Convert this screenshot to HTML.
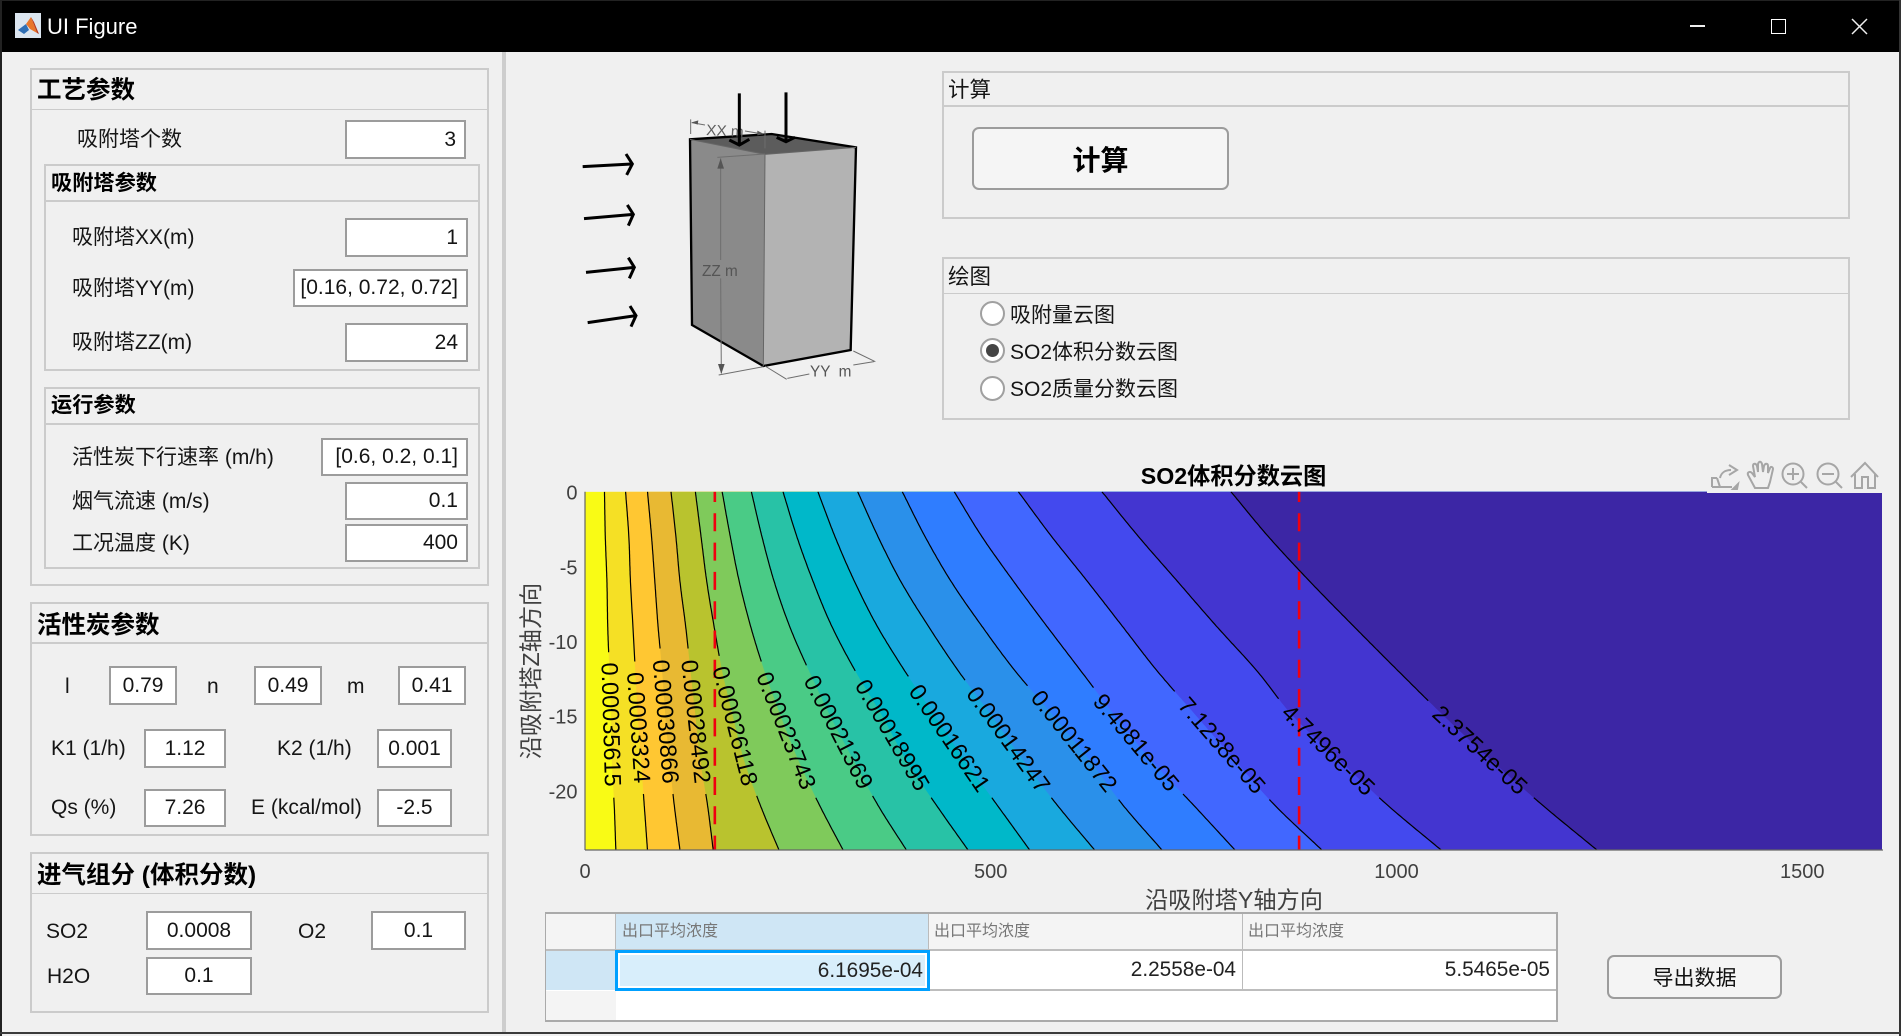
<!DOCTYPE html>
<html lang="zh">
<head>
<meta charset="utf-8">
<title>UI Figure</title>
<style>
html,body{margin:0;padding:0;width:1901px;height:1036px;overflow:hidden;background:#F0F0F0;}
body{position:relative;font-family:"Liberation Sans","Noto Sans CJK SC",sans-serif;color:#111;}
div{box-sizing:border-box;}
.abs{position:absolute;}
.panel{position:absolute;border:2px solid #CBCBCB;}
.hline{position:absolute;height:2px;background:#CBCBCB;}
.ttl{position:absolute;font-weight:bold;white-space:nowrap;line-height:32px;height:32px;color:#000;}
.lb{position:absolute;white-space:nowrap;font-size:21px;line-height:26px;height:26px;color:#151515;}
.in{position:absolute;background:#fff;border:2px solid #9C9C9C;font-size:21px;color:#151515;white-space:nowrap;display:flex;align-items:center;}
.r{justify-content:flex-end;padding-right:8px;}
.c{justify-content:center;}
.radio{position:absolute;width:25px;height:25px;border-radius:50%;background:#fff;border:2px solid #A0A0A0;}
.cell{position:absolute;white-space:nowrap;}
</style>
</head>
<body>

<!-- title bar -->
<div class="abs" style="left:0;top:0;width:1901px;height:52px;background:#000;border-top:1px solid #222;"></div>
<div class="abs" style="left:47px;top:14px;font-size:22px;line-height:26px;color:#fff;white-space:nowrap;">UI Figure</div>
<svg class="abs" style="left:15px;top:13px;" width="26" height="25" viewBox="0 0 26 25">
  <rect x="0" y="0" width="26" height="25" fill="#DCE6F0"/>
  <polygon points="3,17 11,11 14,17 9,21" fill="#2F6FB5"/>
  <polygon points="11,11 16,4 22,20 15,16" fill="#E8762B"/>
  <polygon points="16,4 19,9 24,21 22,20" fill="#B83A1E"/>
</svg>
<div class="abs" style="left:1690px;top:25px;width:15px;height:2px;background:#eee;"></div>
<div class="abs" style="left:1771px;top:19px;width:15px;height:15px;border:1.5px solid #fff;"></div>
<svg class="abs" style="left:1851px;top:18px;" width="17" height="17"><path d="M1 1L16 16M16 1L1 16" stroke="#eee" stroke-width="1.5" fill="none"/></svg>

<!-- frame -->
<div class="abs" style="left:0;top:0;width:2px;height:1036px;background:#222;"></div>
<div class="abs" style="left:1899px;top:0;width:2px;height:1036px;background:#333;"></div>
<div class="abs" style="left:0;top:1032px;width:1901px;height:2px;background:#3A3A3A;"></div>
<div class="abs" style="left:502px;top:52px;width:4px;height:980px;background:#CDCDCD;"></div>

<!-- process parameters -->
<div class="panel" style="left:30px;top:68px;width:459px;height:518px;"></div>
<div class="hline" style="left:32px;top:109px;width:455px;height:1px;"></div>
<div class="ttl" style="left:37px;top:75px;font-size:24.5px;">工艺参数</div>
<div class="lb" style="left:77px;top:127px;">吸附塔个数</div>
<div class="in r" style="left:345px;top:120px;width:121px;height:39px;">3</div>

<div class="panel" style="left:44px;top:164px;width:436px;height:207px;"></div>
<div class="hline" style="left:46px;top:200px;width:432px;"></div>
<div class="ttl" style="left:51px;top:168px;font-size:21.2px;">吸附塔参数</div>
<div class="lb" style="left:72px;top:225px;">吸附塔XX(m)</div>
<div class="in r" style="left:345px;top:218px;width:123px;height:39px;">1</div>
<div class="lb" style="left:72px;top:276px;">吸附塔YY(m)</div>
<div class="in r" style="left:293px;top:269px;width:175px;height:38px;">[0.16, 0.72, 0.72]</div>
<div class="lb" style="left:72px;top:330px;">吸附塔ZZ(m)</div>
<div class="in r" style="left:345px;top:323px;width:123px;height:39px;">24</div>

<div class="panel" style="left:44px;top:387px;width:436px;height:182px;"></div>
<div class="hline" style="left:46px;top:423px;width:432px;"></div>
<div class="ttl" style="left:51px;top:390px;font-size:21.2px;">运行参数</div>
<div class="lb" style="left:72px;top:445px;">活性炭下行速率 (m/h)</div>
<div class="in r" style="left:321px;top:438px;width:147px;height:38px;">[0.6, 0.2, 0.1]</div>
<div class="lb" style="left:72px;top:489px;">烟气流速 (m/s)</div>
<div class="in r" style="left:345px;top:482px;width:123px;height:38px;">0.1</div>
<div class="lb" style="left:72px;top:531px;">工况温度 (K)</div>
<div class="in r" style="left:345px;top:524px;width:123px;height:38px;">400</div>

<!-- carbon parameters -->
<div class="panel" style="left:30px;top:602px;width:459px;height:234px;"></div>
<div class="hline" style="left:32px;top:642px;width:455px;"></div>
<div class="ttl" style="left:37px;top:610px;font-size:24.5px;">活性炭参数</div>
<div class="lb" style="left:65px;top:674px;">l</div>
<div class="in c" style="left:109px;top:666px;width:68px;height:39px;">0.79</div>
<div class="lb" style="left:207px;top:674px;">n</div>
<div class="in c" style="left:254px;top:666px;width:68px;height:39px;">0.49</div>
<div class="lb" style="left:347px;top:674px;">m</div>
<div class="in c" style="left:398px;top:666px;width:68px;height:39px;">0.41</div>
<div class="lb" style="left:51px;top:736px;">K1 (1/h)</div>
<div class="in c" style="left:144px;top:729px;width:82px;height:39px;">1.12</div>
<div class="lb" style="left:277px;top:736px;">K2 (1/h)</div>
<div class="in c" style="left:377px;top:729px;width:75px;height:39px;">0.001</div>
<div class="lb" style="left:51px;top:795px;">Qs (%)</div>
<div class="in c" style="left:144px;top:789px;width:82px;height:38px;">7.26</div>
<div class="lb" style="left:251px;top:795px;">E (kcal/mol)</div>
<div class="in c" style="left:377px;top:789px;width:75px;height:38px;">-2.5</div>

<!-- inlet composition -->
<div class="panel" style="left:30px;top:852px;width:459px;height:161px;"></div>
<div class="hline" style="left:32px;top:893px;width:455px;height:1px;"></div>
<div class="ttl" style="left:37px;top:860px;font-size:24.5px;">进气组分 (体积分数)</div>
<div class="lb" style="left:46px;top:919px;">SO2</div>
<div class="in c" style="left:146px;top:911px;width:106px;height:39px;">0.0008</div>
<div class="lb" style="left:298px;top:919px;">O2</div>
<div class="in c" style="left:371px;top:911px;width:95px;height:39px;">0.1</div>
<div class="lb" style="left:47px;top:964px;">H2O</div>
<div class="in c" style="left:146px;top:957px;width:106px;height:38px;">0.1</div>

<!-- compute panel -->
<div class="panel" style="left:942px;top:71px;width:908px;height:148px;"></div>
<div class="hline" style="left:944px;top:105px;width:904px;"></div>
<div class="lb" style="left:948px;top:77px;font-size:21.5px;">计算</div>
<div class="abs" style="left:972px;top:127px;width:257px;height:63px;background:#F5F5F5;border:2px solid #9C9C9C;border-radius:7px;display:flex;align-items:center;justify-content:center;font-size:28px;font-weight:bold;color:#000;">计算</div>

<!-- plot selection -->
<div class="panel" style="left:942px;top:257px;width:908px;height:163px;"></div>
<div class="hline" style="left:944px;top:293px;width:904px;height:1px;"></div>
<div class="lb" style="left:948px;top:264px;font-size:21.5px;">绘图</div>
<div class="radio" style="left:980px;top:301px;"></div>
<div class="lb" style="left:1010px;top:303px;">吸附量云图</div>
<div class="radio" style="left:980px;top:338px;"></div>
<div class="abs" style="left:986px;top:344px;width:13px;height:13px;border-radius:50%;background:#444;"></div>
<div class="lb" style="left:1010px;top:340px;">SO2体积分数云图</div>
<div class="radio" style="left:980px;top:376px;"></div>
<div class="lb" style="left:1010px;top:377px;">SO2质量分数云图</div>

<!-- tower diagram + chart -->
<svg id="chart" class="abs" style="left:0;top:0;" width="1901" height="1036" viewBox="0 0 1901 1036" font-family="'Liberation Sans','Noto Sans CJK SC',sans-serif">
  <defs>
    <clipPath id="plot-clip"><rect x="585" y="491.7" width="1297" height="358.3"/></clipPath>
  </defs>
  <g transform="translate(520,60) scale(0.33333)">
    <polygon points="510,238 755,222 1008,262 735,283" fill="#5C5C5C"/>
    <polygon points="510,238 735,283 730,918 516,795" fill="#8A8A8A"/>
    <polygon points="735,283 1008,262 992,870 730,918" fill="#B3B3B3"/>
    <path d="M510,238L755,222L1008,262L992,870L730,918L516,795Z" fill="none" stroke="#000" stroke-width="7"/>
    <path d="M510,238L735,283L1008,262M735,283L730,918" fill="none" stroke="#666" stroke-width="3"/>
    <g fill="none" stroke="#6E6E6E" stroke-width="3">
      <path d="M512,178V222M515,188L555,195M675,213L730,222M735,212V265"/>
      <path d="M592,292L735,282M602,295V600M602,655L604,940M596,945L730,920"/>
      <path d="M735,918L800,958M1000,873L1066,905M802,955L868,942M1000,915L1062,905"/>
    </g>
    <g fill="#555">
      <polygon points="515,187 535,181 533,194"/>
      <polygon points="732,222 712,212 712,226"/>
      <polygon points="602,295 592,326 612,326"/>
      <polygon points="604,942 594,912 614,912"/>
    </g>
    <text x="558" y="225" font-size="46" fill="#606060" transform="rotate(3 558 225)">XX m</text>
    <text x="546" y="648" font-size="46" fill="#555">ZZ m</text>
    <text x="870" y="950" font-size="46" fill="#555" xml:space="preserve">YY  m</text>
    <g fill="none" stroke="#000" stroke-width="9">
      <path d="M188,320L335,312M318,282L337,312L320,345"/>
      <path d="M192,476L340,463M322,435L340,463L325,497"/>
      <path d="M198,637L343,622M325,593L343,622L328,655"/>
      <path d="M203,788L348,767M330,738L348,767L333,800"/>
      <path d="M658,100V255M628,240L658,255L688,238"/>
      <path d="M798,97V245M770,232L798,245L825,232"/>
    </g>
  </g>
  <g id="bands" clip-path="url(#plot-clip)"></g>
  <g id="lines" clip-path="url(#plot-clip)"></g>
  <g id="refs" clip-path="url(#plot-clip)"></g>
  <g id="labels"></g>
  <g id="axes"></g>
  <text x="1233.5" y="484" text-anchor="middle" font-size="23.2" font-weight="bold" fill="#000">SO2体积分数云图</text>
  <text x="1234" y="908" text-anchor="middle" font-size="23.2" fill="#404040">沿吸附塔Y轴方向</text>
  <text x="539" y="671" text-anchor="middle" font-size="23.2" fill="#404040" transform="rotate(-90 539 671)">沿吸附塔Z轴方向</text>
  <g fill="none" stroke="#A6A6A6" stroke-width="2">
    <rect x="1707" y="491" width="175" height="2" fill="#F0F0F0" stroke="none"/>
    <g><path d="M1712,487V478H1717M1722,487H1712M1732,487H1720L1717,478M1720,478C1721,473 1725,470 1731,470M1729,465L1737,470L1729,475"/><polygon points="1737,489 1738,484 1733,489" fill="#A6A6A6"/></g>
    <path d="M1755,488L1748,475C1747,472 1750,471 1752,473L1755,477L1753,466C1753,463 1756,463 1757,466L1758,472L1758,464C1759,461 1761,461 1762,464L1763,472L1764,466C1765,463 1768,463 1768,466L1768,473L1770,468C1771,466 1773,467 1773,469L1770,482L1768,488Z"/>
    <g><circle cx="1793" cy="474" r="10.5"/><path d="M1801,482L1807,488M1787,474H1799M1793,468V480"/></g>
    <g><circle cx="1828" cy="474" r="10.5"/><path d="M1836,482L1842,488M1822,474H1834"/></g>
    <path d="M1851,477L1865,463L1878,477M1855,474V488H1862V477H1868V488H1875V474"/>
  </g>
</svg>

<!-- results table -->
<div class="abs" style="left:545px;top:912px;width:1013px;height:110px;background:#fff;border:2px solid #AAAAAA;border-left-width:1px;"></div>
<div class="cell" style="left:546px;top:914px;width:70px;height:35px;background:#F4F4F4;"></div>
<div class="cell" style="left:615px;top:914px;width:314px;height:35px;background:#CFE6F5;border-left:1px solid #BBB;border-right:1px solid #BBB;font-size:16px;line-height:35px;color:#777;padding-left:6px;">出口平均浓度</div>
<div class="cell" style="left:929px;top:914px;width:314px;height:35px;background:#F4F4F4;border-right:1px solid #BBB;font-size:16px;line-height:35px;color:#777;padding-left:5px;">出口平均浓度</div>
<div class="cell" style="left:1243px;top:914px;width:313px;height:35px;background:#F4F4F4;font-size:16px;line-height:35px;color:#777;padding-left:5px;">出口平均浓度</div>
<div class="abs" style="left:546px;top:949px;width:1010px;height:2px;background:#BDBDBD;"></div>
<div class="cell" style="left:546px;top:951px;width:70px;height:39px;background:#CFE6F5;"></div>
<div class="abs" style="left:929px;top:989px;width:627px;height:2px;background:#BDBDBD;"></div>
<div class="cell" style="left:929px;top:951px;width:314px;height:38px;background:#fff;border-right:1px solid #BBB;font-size:20.8px;line-height:38px;text-align:right;padding-right:6px;color:#222;">2.2558e-04</div>
<div class="cell" style="left:1243px;top:951px;width:313px;height:38px;background:#fff;font-size:20.8px;line-height:38px;text-align:right;padding-right:6px;color:#222;">5.5465e-05</div>
<div class="cell" style="left:615px;top:950px;width:315px;height:41px;background:#D8EEFB;border:3px solid #00A0FF;outline:2px solid #fff;outline-offset:-5px;font-size:20.8px;line-height:35px;text-align:right;padding-right:4px;color:#222;">6.1695e-04</div>
<div class="cell" style="left:546px;top:991px;width:70px;height:29px;background:#F4F4F4;"></div>

<div class="abs" style="left:1607px;top:955px;width:175px;height:44px;background:#F4F4F4;border:2px solid #9C9C9C;border-radius:7px;display:flex;align-items:center;justify-content:center;font-size:21px;color:#111;">导出数据</div>

<script>
// chart data
const depths = [0, -3, -6, -9, -12, -15, -18, -21, -24];
const levelLabels = ["0.00035615","0.0003324","0.00030866","0.00028492","0.00026118","0.00023743","0.00021369","0.00018995","0.00016621","0.00014247","0.00011872","9.4981e-05","7.1238e-05","4.7496e-05","2.3754e-05"];
const contourC1 = [24,25,27,28,30,32,33,36,38];
const contourC2 = [50,54,56,59,62,65,69,73,77];
const contourC3 = [77,82,86,90,95,99,104,110,117];
const contourC4 = [106,112,117,124,130,136,142,151,158];
const contourC5 = [136,143,150,159,169,182,196,216,239];
const contourC6 = [169,179,190,204,221,241,263,289,318];
const contourC7 = [205,218,233,252,276,302,331,361,396];
const contourC8 = [244,261,281,304,333,366,396,433,472];
const contourC9 = [287,308,332,360,394,431,468,508,548];
const contourC10 = [336,361,389,423,460,501,540,582,628];
const contourC11 = [391,419,451,489,530,577,622,663,711];
const contourC12 = [455,489,528,569,611,653,698,750,801];
const contourC13 = [534,575,619,662,705,753,801,850,908];
const contourC14 = [637,682,730,778,828,872,930,989,1055];
const contourC15 = [796,842,893,947,1002,1058,1117,1180,1247];
const contours = [contourC1,contourC2,contourC3,contourC4,contourC5,contourC6,contourC7,contourC8,contourC9,contourC10,contourC11,contourC12,contourC13,contourC14,contourC15];
const labelDepths = [-15.6,-15.8,-15.4,-15.4,-15.7,-16,-16.1,-16.3,-16.5,-16.6,-16.7,-16.8,-17,-17.3,-17.3];
const towerBoundaries = [160, 880];
const xTicks = [0, 500, 1000, 1500];
const yTicks = [0, -5, -10, -15, -20];
const bandColors = ["#F9FB15","#F5E025","#FFC732","#E8B933","#B9C32E","#7FCA5B","#4ACB86","#28C2A6","#00B8C9","#19A9DE","#2A90EA","#2F7DFF","#4167FF","#4349EE","#4335D0","#3C26A5"];

const NS = "http://www.w3.org/2000/svg";
const xMax = 1598.3, yMin = -24;
const left = 585, right = 1882, top_ = 491.7, bottom = 850;
function xScale(v){ return left + (right - left) * v / xMax; }
function yScale(d){ return top_ + (bottom - top_) * d / yMin; }
function mk(tag, parent, attrs){
  const el = document.createElementNS(NS, tag);
  for (const k in attrs) el.setAttribute(k, attrs[k]);
  parent.appendChild(el);
  return el;
}
// Catmull-Rom value of a contour at a given depth
function valueAt(series, d){
  const n = depths.length;
  const step = depths[0] - depths[1];
  let f = (depths[0] - d) / step;
  f = Math.max(0, Math.min(n - 1, f));
  const i = Math.min(n - 2, Math.floor(f));
  const t = f - i;
  const p1 = series[i], p2 = series[i + 1];
  const p0 = i > 0 ? series[i - 1] : 2 * p1 - p2;
  const p3 = i < n - 2 ? series[i + 2] : 2 * p2 - p1;
  return 0.5 * ((2 * p1) + (-p0 + p2) * t + (2 * p0 - 5 * p1 + 4 * p2 - p3) * t * t + (-p0 + 3 * p1 - 3 * p2 + p3) * t * t * t);
}
function sampled(series){
  const out = [];
  const d0 = depths[0], d1 = depths[depths.length - 1];
  const N = 192;
  for (let i = 0; i <= N; i++){
    const d = d0 + (d1 - d0) * i / N;
    out.push([xScale(valueAt(series, d)), yScale(d)]);
  }
  return out;
}
const bandsG = document.getElementById("bands");
const linesG = document.getElementById("lines");
const labelsG = document.getElementById("labels");
const refsG = document.getElementById("refs");
const axesG = document.getElementById("axes");

const baseBand = mk("rect", bandsG, {x:left, y:top_, width:right-left, height:bottom-top_, fill:bandColors[0]});



contours.forEach(function(series, i){
  const pts = sampled(series);
  const poly = pts.map(p => p[0].toFixed(1) + "," + p[1].toFixed(1)).join(" ") + " " + right + "," + bottom + " " + right + "," + top_;
  const band = mk("polygon", bandsG, {points:poly, fill:bandColors[i + 1]});
  
  
});

contours.forEach(function(series, i){
  const pts = sampled(series);
  const d = labelDepths[i];
  const cx = xScale(valueAt(series, d)), cy = yScale(d);
  const ax = xScale(valueAt(series, d + 3)), ay = yScale(d + 3);
  const bx = xScale(valueAt(series, d - 3)), by = yScale(d - 3);
  const ang = Math.atan2(by - ay, bx - ax) * 180 / Math.PI;
  const label = mk("text", labelsG, {x:cx, y:cy, "text-anchor":"middle", "dominant-baseline":"central", "font-size":23.5, fill:"#000", transform:"rotate(" + ang.toFixed(1) + " " + cx.toFixed(1) + " " + cy.toFixed(1) + ")"});
  
  
  label.textContent = levelLabels[i];
  const half = label.getComputedTextLength() / 2 + 10;
  let seg = [];
  const segs = [];
  pts.forEach(function(p){
    if (Math.hypot(p[0] - cx, p[1] - cy) < half){
      if (seg.length) segs.push(seg);
      seg = [];
    } else seg.push(p);
  });
  if (seg.length) segs.push(seg);
  segs.forEach(function(s){
    const line = mk("polyline", linesG, {points:s.map(p => p[0].toFixed(1) + "," + p[1].toFixed(1)).join(" "), fill:"none", stroke:"#000", "stroke-width":1.2});
    
    
  });
});

towerBoundaries.forEach(function(v){
  const ref = mk("line", refsG, {x1:xScale(v), x2:xScale(v), y1:top_, y2:bottom, stroke:"#F00010", "stroke-width":2.6, "stroke-dasharray":"18 11.3", "stroke-dashoffset":7.7});
  
  
});

const xAxisLine = mk("line", axesG, {x1:left, x2:right + 1, y1:bottom, y2:bottom, stroke:"#666", "stroke-width":1.2});


const yAxisLine = mk("line", axesG, {x1:left, x2:left, y1:top_, y2:bottom, stroke:"#666", "stroke-width":1.2});



xTicks.forEach(function(v){
  const t = mk("text", axesG, {x:xScale(v), y:878, "text-anchor":"middle", "font-size":20, fill:"#404040"});
  
  
  t.textContent = String(v);
});
yTicks.forEach(function(v){
  const t = mk("text", axesG, {x:577.5, y:yScale(v) + 8, "text-anchor":"end", "font-size":20, fill:"#404040"});
  
  
  t.textContent = String(v);
});
</script>
</body>
</html>
